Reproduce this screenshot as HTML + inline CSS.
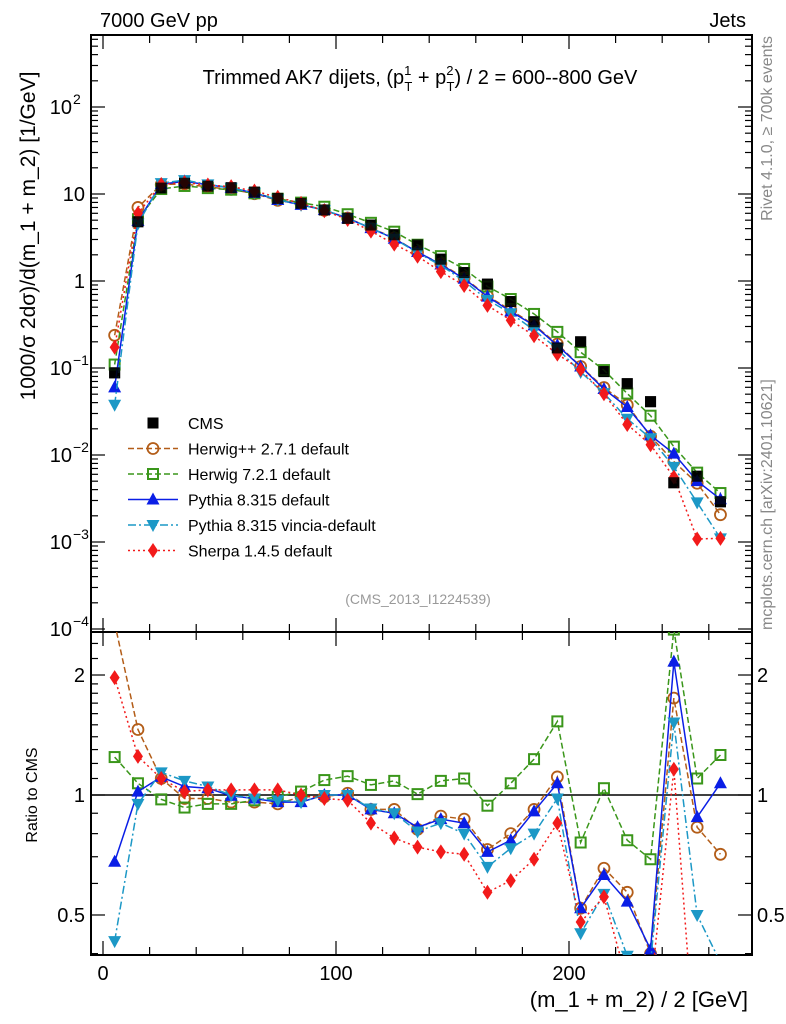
<!DOCTYPE html>
<html><head><meta charset="utf-8"><style>
html,body{margin:0;padding:0;background:#fff;width:786px;height:1024px;overflow:hidden;}
svg{display:block;font-family:"Liberation Sans",Arial,sans-serif;}
</style></head><body>
<div style="position:relative;width:786px;height:1024px;overflow:hidden">
<svg id="c" width="786" height="1024" viewBox="0 0 786 1024" style="position:absolute;left:0;top:0"></svg>
<svg width="786" height="1024" style="position:absolute;left:0;top:0">
<text x="100" y="27" font-size="20" font-family="Liberation Sans">7000 GeV pp</text>
<text x="746" y="27" font-size="20" text-anchor="end" font-family="Liberation Sans">Jets</text>
<text x="420" y="84" font-size="20" text-anchor="middle" font-family="Liberation Sans">Trimmed AK7 dijets, (p<tspan font-size="13" dy="-9">1</tspan><tspan font-size="13" dx="-7" dy="16">T</tspan><tspan dy="-7"> + p</tspan><tspan font-size="13" dy="-9">2</tspan><tspan font-size="13" dx="-7" dy="16">T</tspan><tspan dy="-7">) / 2 = 600--800 GeV</tspan></text>
<text transform="translate(35,236) rotate(-90)" font-size="21" text-anchor="middle" font-family="Liberation Sans">1000/σ   2dσ)/d(m_1 + m_2) [1/GeV]</text>
<text transform="translate(37,795) rotate(-90)" font-size="16" text-anchor="middle" font-family="Liberation Sans">Ratio to CMS</text>
<text x="748" y="1007" font-size="22" text-anchor="end" font-family="Liberation Sans">(m_1 + m_2) / 2 [GeV]</text>
<text x="418" y="604" font-size="14" text-anchor="middle" fill="#999" font-family="Liberation Sans">(CMS_2013_I1224539)</text>
<text transform="translate(772,36) rotate(-90)" font-size="16" text-anchor="end" fill="#888" font-family="Liberation Sans">Rivet 4.1.0, ≥ 700k events</text>
<text transform="translate(772,630) rotate(-90)" font-size="16" text-anchor="start" fill="#888" font-family="Liberation Sans">mcplots.cern.ch [arXiv:2401.10621]</text>
</svg>
</div>
<script>
const bins=[5,15,25,35,45,55,65,75,85,95,105,115,125,135,145,155,165,175,185,195,205,215,225,235,245,255,265];
const cms=[0.088,4.8,11.7,13.3,12.3,11.8,10.5,8.9,7.8,6.55,5.25,4.4,3.4,2.6,1.78,1.25,0.92,0.58,0.34,0.17,0.20,0.091,0.066,0.041,0.0048,0.0057,0.0029];
const rHerwigpp=[2.7,1.46,1.10,0.98,0.98,0.96,0.96,0.95,0.99,0.99,1.01,0.92,0.92,0.82,0.885,0.87,0.73,0.80,0.92,1.11,0.52,0.655,0.57,0.40,1.75,0.83,0.71];
const rHerwig7=[1.245,1.07,0.975,0.93,0.95,0.95,0.97,0.99,1.02,1.09,1.115,1.06,1.085,1.005,1.085,1.10,0.94,1.07,1.23,1.53,0.76,1.04,0.77,0.69,2.6,1.10,1.26];
const rPythia=[0.68,1.02,1.11,1.05,1.04,0.995,0.98,0.96,0.96,1.0,1.0,0.92,0.90,0.83,0.87,0.85,0.72,0.77,0.91,1.07,0.52,0.63,0.54,0.41,2.16,0.88,1.07];
const rVincia=[0.43,0.95,1.14,1.085,1.05,1.0,0.98,0.97,0.96,1.0,1.0,0.925,0.90,0.81,0.85,0.80,0.66,0.735,0.80,0.98,0.45,0.565,0.395,0.38,1.52,0.50,0.38];
const rSherpa=[1.97,1.25,1.10,1.02,1.03,1.03,1.03,1.03,1.0,0.98,0.97,0.85,0.78,0.74,0.72,0.71,0.57,0.61,0.69,0.85,0.48,0.555,0.34,0.32,1.16,0.19,0.38];
const xTicks=[0,100,200];
const legendLabels=["CMS","Herwig++ 2.7.1 default","Herwig 7.2.1 default","Pythia 8.315 default","Pythia 8.315 vincia-default","Sherpa 1.4.5 default"];

const NS="http://www.w3.org/2000/svg";
const svg=document.getElementById('c');
function el(tag,attrs,parent){const e=document.createElementNS(NS,tag);for(const k in attrs)e.setAttribute(k,attrs[k]);(parent||svg).appendChild(e);return e;}
const L=91,R=752,T=35,M=632,B=955;
const X=v=>103+2.33*v;
const Ymain=v=>281-87*Math.log10(v);
const Yr=v=>795-398.6*Math.log10(v);

const defs=el('defs',{});
const c1=el('clipPath',{id:'cm'},defs);el('rect',{x:L,y:T,width:R-L,height:M-T},c1);
const c2=el('clipPath',{id:'cr'},defs);el('rect',{x:L,y:M,width:R-L,height:B-M},c2);

const f1=el('rect',{x:L,y:T,width:R-L,height:M-T,fill:'none',stroke:'#000','stroke-width':2});


const f2=el('rect',{x:L,y:M,width:R-L,height:B-M,fill:'none',stroke:'#000','stroke-width':2});



for(let v=0;v<=270;v+=20){
  const x=X(v),maj=(v%100===0);const len=maj?14:8;
  [[T,1],[M,-1],[M,1],[B,-1]].forEach(([y,d])=>el('line',{x1:x,x2:x,y1:y,y2:y+d*len,stroke:'#000','stroke-width':1.2}));
}
xTicks.forEach(v=>{const t=el('text',{x:X(v),y:980,'font-size':20,'text-anchor':'middle'});t.textContent=v;

});

for(let e=-4;e<=2;e++){
  for(let m=1;m<=9;m++){
    const v=m*Math.pow(10,e);const y=Ymain(v);if(y<T||y>M)continue;
    const len=m===1?14:7;
    el('line',{x1:L,x2:L+len,y1:y,y2:y,stroke:'#000','stroke-width':1.2});
    el('line',{x1:R,x2:R-len,y1:y,y2:y,stroke:'#000','stroke-width':1.2});
  }
}
const yLabs=[[2,'10','2'],[1,'10',''],[0,'1',''],[-1,'10','−1'],[-2,'10','−2'],[-3,'10','−3'],[-4,'10','−4']];
yLabs.forEach(([e,b,s])=>{const y=Ymain(Math.pow(10,e));
  const t=el('text',{x:s?72:85,y:y+7,'font-size':20,'text-anchor':'end'});t.textContent=b;
  
  
  if(s){const u=el('text',{x:73,y:y-3,'font-size':14});u.textContent=s;}
});
const rt=[0.4,0.5,0.6,0.7,0.8,0.9,1,1.1,1.2,1.3,1.4,1.5,1.6,1.7,1.8,1.9,2,2.2,2.4];
rt.forEach(v=>{const y=Yr(v);const maj=(v===0.5||v===1||v===2);const len=maj?14:7;
  el('line',{x1:L,x2:L+len,y1:y,y2:y,stroke:'#000','stroke-width':1.2});
  el('line',{x1:R,x2:R-len,y1:y,y2:y,stroke:'#000','stroke-width':1.2});});
[[2,'2'],[1,'1'],[0.5,'0.5']].forEach(([v,s])=>{
  const t=el('text',{x:85,y:Yr(v)+7,'font-size':20,'text-anchor':'end'});t.textContent=s;
  
  
  const t2=el('text',{x:757,y:Yr(v)+7,'font-size':20,'text-anchor':'start'});t2.textContent=s;
  
  
});
el('line',{x1:L,x2:R,y1:Yr(1),y2:Yr(1),stroke:'#000','stroke-width':1.5});

function marker(kind,x,y,color,g){
  const s=5.5;
  if(kind==='sq')return el('rect',{x:x-s,y:y-s,width:2*s,height:2*s,fill:'#000'},g);
  if(kind==='osq')return el('rect',{x:x-5,y:y-5,width:10,height:10,fill:'none',stroke:color,'stroke-width':2},g);
  if(kind==='oc')return el('circle',{cx:x,cy:y,r:5.5,fill:'none',stroke:color,'stroke-width':1.8},g);
  if(kind==='tu')return el('polygon',{points:`${x},${y-7} ${x-6.5},${y+5} ${x+6.5},${y+5}`,fill:color},g);
  if(kind==='td')return el('polygon',{points:`${x},${y+7} ${x-6.5},${y-5} ${x+6.5},${y-5}`,fill:color},g);
  if(kind==='di')return el('polygon',{points:`${x},${y-7.5} ${x-5},${y} ${x},${y+7.5} ${x+5},${y}`,fill:color},g);
}
const series=[
 {name:'herwigpp',r:rHerwigpp,color:'#b35d18',dash:'6,3',kind:'oc'},
 {name:'herwig7',r:rHerwig7,color:'#3a961a',dash:'6,3',kind:'osq'},
 {name:'pythia',r:rPythia,color:'#0a1ee6',dash:'',kind:'tu'},
 {name:'vincia',r:rVincia,color:'#1c98c6',dash:'8,3,2,3',kind:'td'},
 {name:'sherpa',r:rSherpa,color:'#f21a1a',dash:'2,3',kind:'di'}
];
const gc=el('g',{'clip-path':'url(#cm)'});


cms.forEach((v,i)=>{const m=marker('sq',X(bins[i]),Ymain(v),'#000',gc);
  
  });
const gm=el('g',{'clip-path':'url(#cm)'});
const gr=el('g',{'clip-path':'url(#cr)'});
series.forEach(s=>{
  const vals=s.r.map((r,i)=>r*cms[i]);
  const g1=el('g',{},gm);
  
  
  el('polyline',{points:vals.map((v,i)=>X(bins[i])+','+Ymain(v)).join(' '),fill:'none',stroke:s.color,'stroke-width':1.5,'stroke-dasharray':s.dash},g1);
  vals.forEach((v,i)=>{const m=marker(s.kind,X(bins[i]),Ymain(v),s.color,g1);
    
    });
  const g2=el('g',{},gr);
  
  
  el('polyline',{points:s.r.map((v,i)=>X(bins[i])+','+Yr(v)).join(' '),fill:'none',stroke:s.color,'stroke-width':1.5,'stroke-dasharray':s.dash},g2);
  s.r.forEach((v,i)=>{const m=marker(s.kind,X(bins[i]),Yr(v),s.color,g2);
    
    });
});
// CMS markers drawn on top where visible in reference
const gc2=el('g',{'clip-path':'url(#cm)'});


cms.forEach((v,i)=>{const m=marker('sq',X(bins[i]),Ymain(v),'#000',gc2);
  m.setAttribute('opacity',0.85);
  
  });

const leg=el('g',{});


const legKinds=[['sq','#000',''],['oc','#b35d18','6,3'],['osq','#3a961a','6,3'],['tu','#0a1ee6',''],['td','#1c98c6','8,3,2,3'],['di','#f21a1a','2,3']];
legendLabels.forEach((lab,i)=>{
  const y=423+i*25.5;const [k,c,d]=legKinds[i];
  const g=el('g',{},leg);
  
  
  if(i>0)el('line',{x1:128,x2:178,y1:y,y2:y,stroke:c,'stroke-width':1.5,'stroke-dasharray':d},g);
  marker(k,153,y,c,g);
  const t=el('text',{x:188,y:y+6,'font-size':16},g);t.textContent=lab;
});
</script>
</body></html>
